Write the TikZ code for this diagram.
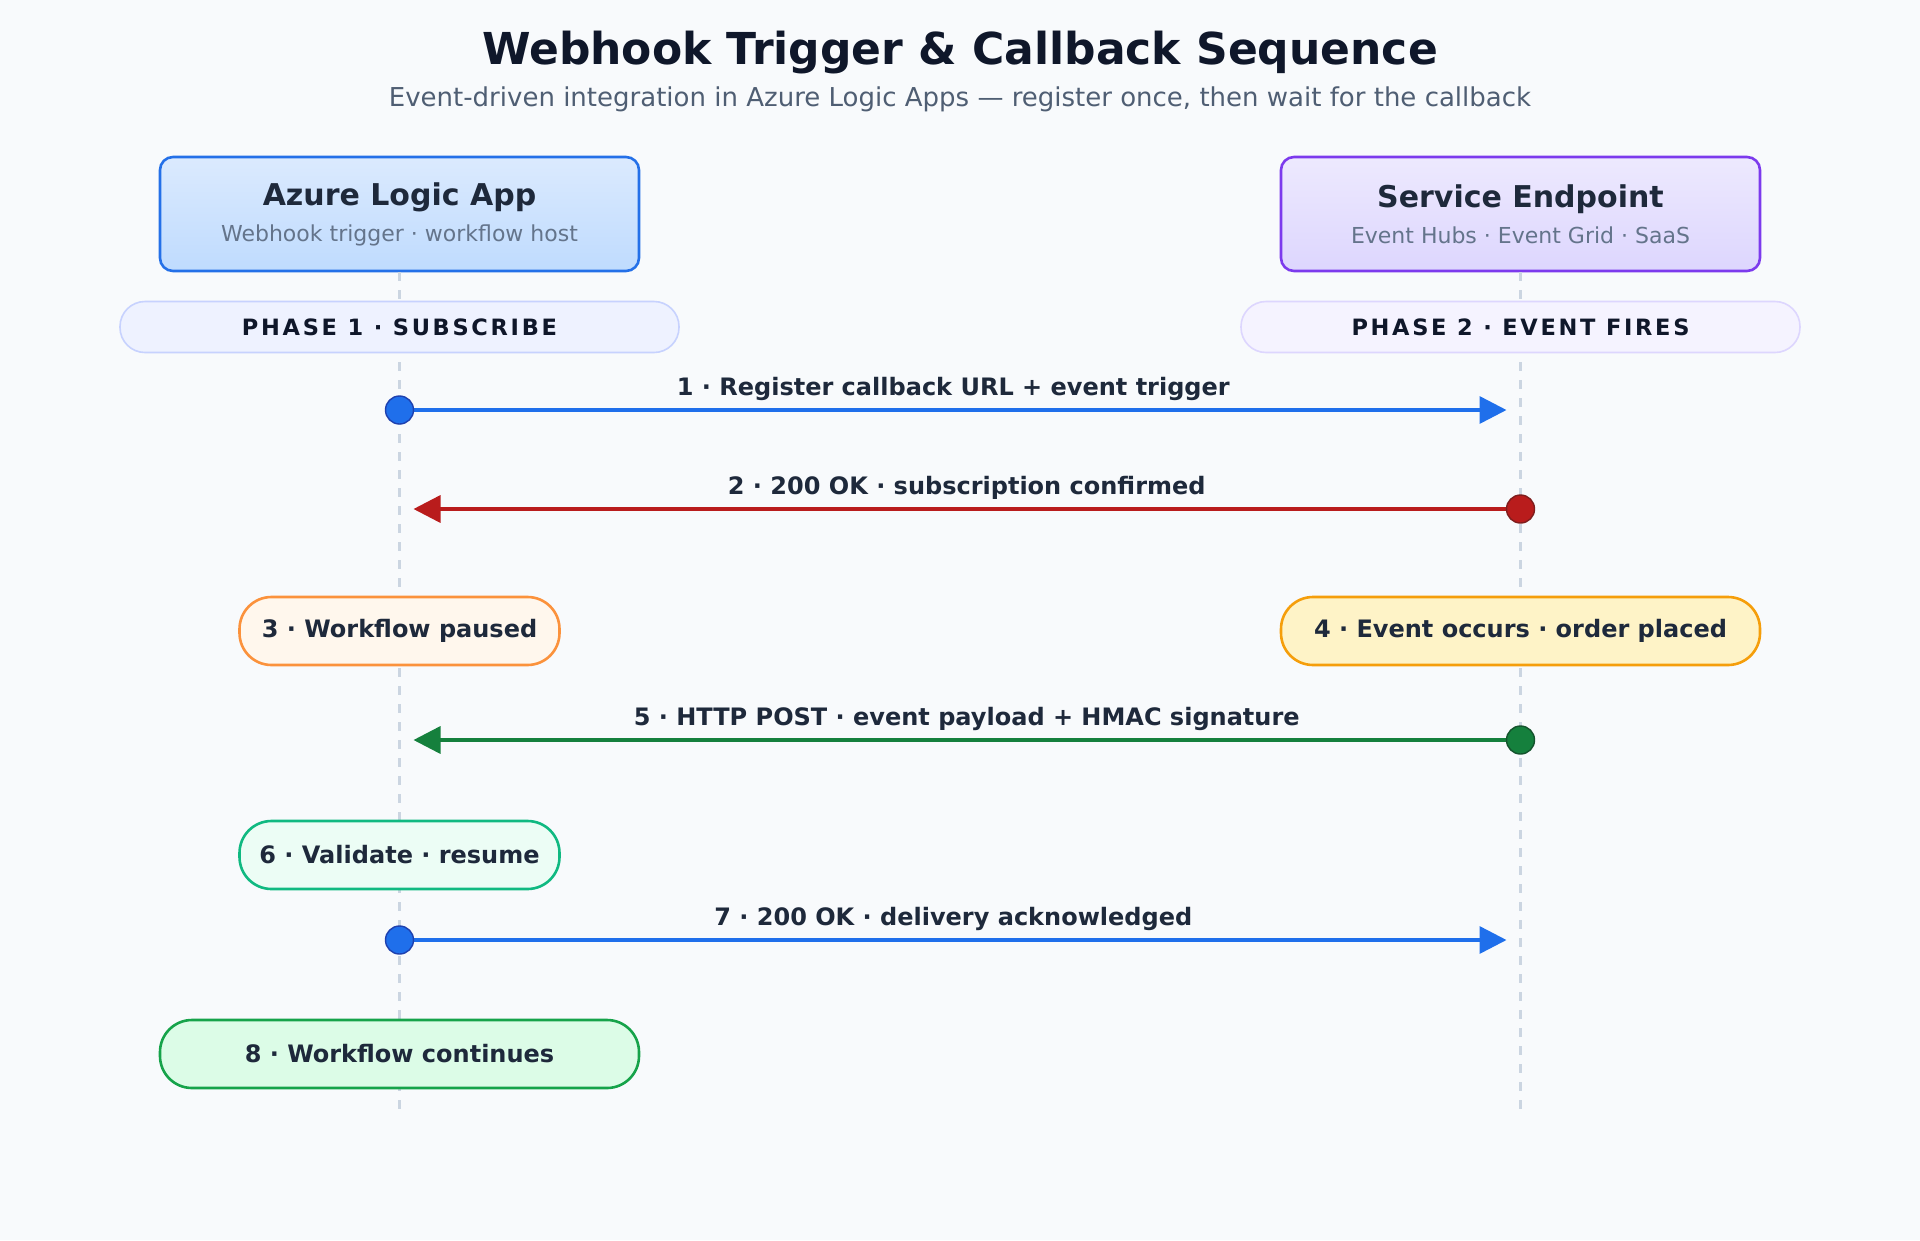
\documentclass[tikz,border=0pt]{standalone}
\usepackage{fontspec}
\setmainfont{DejaVu Sans}
\newfontfamily\phasefont[LetterSpace=12]{DejaVu Sans}
\usetikzlibrary{arrows.meta,positioning,calc}

\definecolor{bgc}{HTML}{F8FAFC}
\definecolor{ink}{HTML}{1E293B}
\definecolor{titleink}{HTML}{0F172A}
\definecolor{subink}{HTML}{64748B}
\definecolor{lifec}{HTML}{CBD5E1}
\definecolor{blueln}{HTML}{1F6FEB}
\definecolor{bluedk}{HTML}{1E40AF}
\definecolor{redln}{HTML}{B91C1C}
\definecolor{reddk}{HTML}{7F1D1D}
\definecolor{greenln}{HTML}{15803D}
\definecolor{greendk}{HTML}{14532D}
\definecolor{appdraw}{HTML}{2470E8}
\definecolor{apptop}{HTML}{DBEAFE}
\definecolor{appbot}{HTML}{BFDBFE}
\definecolor{svcdraw}{HTML}{7C3AED}
\definecolor{svctop}{HTML}{EDE9FE}
\definecolor{svcbot}{HTML}{DDD6FE}
\definecolor{ph1fill}{HTML}{EEF2FF}
\definecolor{ph1draw}{HTML}{C7D2FE}
\definecolor{ph2fill}{HTML}{F5F3FF}
\definecolor{ph2draw}{HTML}{DDD6FE}
\definecolor{pausefill}{HTML}{FFF7ED}
\definecolor{pausedraw}{HTML}{FB923C}
\definecolor{eventfill}{HTML}{FEF3C7}
\definecolor{eventdraw}{HTML}{F59E0B}
\definecolor{validfill}{HTML}{ECFDF5}
\definecolor{validdraw}{HTML}{10B981}
\definecolor{contfill}{HTML}{DCFCE7}
\definecolor{contdraw}{HTML}{16A34A}

\begin{document}
\begin{tikzpicture}[x=1pt, y=-1pt,
    actor/.style={rectangle, rounded corners=13pt, line width=2.6pt, minimum width=479pt, minimum height=114pt, align=center, text=ink},
    phase/.style={rectangle, rounded corners=25pt, line width=1.6pt, minimum width=559pt, minimum height=51pt, text=titleink, font=\phasefont\bfseries\fontsize{22.5}{26}\selectfont},
    stepbox/.style={rectangle, rounded corners=32pt, line width=2.6pt, minimum height=68pt, text=ink, font=\bfseries\fontsize{24}{28}\selectfont},
    life/.style={lifec, line width=2.6pt, dash pattern=on 9pt off 9pt},
    msg/.style={line width=3.5pt, -{Triangle[length=27pt, width=27pt]}, shorten >=14pt},
    lbl/.style={above=4pt, pos=0.494, text=ink, font=\bfseries\fontsize{24}{28}\selectfont},
    dot/.style={circle, line width=1.4pt, minimum size=28pt, inner sep=0pt}]

\fill[bgc] (0,0) rectangle (1920,1240);
\useasboundingbox (0,0) rectangle (1920,1240);

% title
\node[text=titleink, font=\bfseries\fontsize{44}{52}\selectfont] (title) at (960,53) {Webhook Trigger \& Callback Sequence};
\node[text=subink!70!ink, font=\fontsize{26}{31}\selectfont] (subtitle) at (960,99) {Event-driven integration in Azure Logic Apps --- register once, then wait for the callback};

% participants
\node[actor, draw=appdraw, top color=apptop, bottom color=appbot] (app) at (399.5,214)
  {{\bfseries\fontsize{30}{36}\selectfont Azure Logic App}\\[12pt]{\fontsize{22}{26}\selectfont\color{subink}Webhook trigger · workflow host}};
\node[actor, draw=svcdraw, top color=svctop, bottom color=svcbot] (svc) at (1520.5,214)
  {{\bfseries\fontsize{30}{36}\selectfont Service Endpoint}\\[12pt]{\fontsize{22}{26}\selectfont\color{subink}Event Hubs · Event Grid · SaaS}};

% lifelines
\coordinate (append) at (399.5,1118);
\coordinate (svcend) at (1520.5,1118);
\draw[life] (app.south) -- (append);
\draw[life] (svc.south) -- (svcend);

% phases
\node[phase, draw=ph1draw, fill=ph1fill] (ph1) at (399.5,327) {PHASE 1 · SUBSCRIBE};
\node[phase, draw=ph2draw, fill=ph2fill] (ph2) at (1520.5,327) {PHASE 2 · EVENT FIRES};

% steps
\node[stepbox, minimum width=320pt, draw=pausedraw, fill=pausefill] (paused) at (399.5,631) {3 · Workflow paused};
\node[stepbox, minimum width=479pt, draw=eventdraw, fill=eventfill] (occurs) at (1520.5,631) {4 · Event occurs · order placed};
\node[stepbox, minimum width=320pt, draw=validdraw, fill=validfill] (validate) at (399.5,855) {6 · Validate · resume};
\node[stepbox, minimum width=479pt, draw=contdraw, fill=contfill] (continues) at (399.5,1054) {8 · Workflow continues};

% messages
\coordinate (a1) at (399.5,410);  \coordinate (s1) at (1520.5,410);
\coordinate (a2) at (399.5,509);  \coordinate (s2) at (1520.5,509);
\coordinate (a5) at (399.5,740);  \coordinate (s5) at (1520.5,740);
\coordinate (a7) at (399.5,940);  \coordinate (s7) at (1520.5,940);

\draw[msg, blueln] (a1) -- node[lbl] {1 · Register callback URL + event trigger} (s1);
\draw[msg, redln] (s2) -- node[lbl] {2 · 200 OK · subscription confirmed} (a2);
\draw[msg, greenln] (s5) -- node[lbl] {5 · HTTP POST · event payload + HMAC signature} (a5);
\draw[msg, blueln] (a7) -- node[lbl] {7 · 200 OK · delivery acknowledged} (s7);

\node[dot, fill=blueln, draw=bluedk] (d1) at (a1) {};
\node[dot, fill=redln, draw=reddk] (d2) at (s2) {};
\node[dot, fill=greenln, draw=greendk] (d5) at (s5) {};
\node[dot, fill=blueln, draw=bluedk] (d7) at (a7) {};
\end{tikzpicture}
\end{document}
